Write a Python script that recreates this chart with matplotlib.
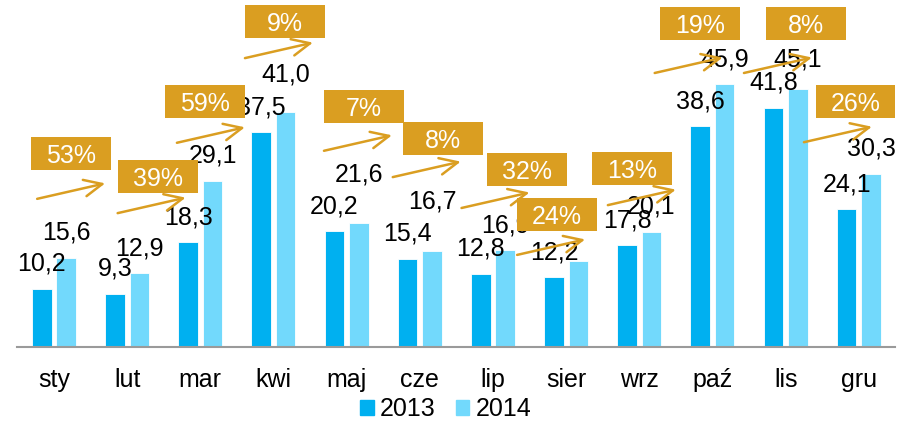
import matplotlib
matplotlib.use("Agg")
import matplotlib.pyplot as plt
from matplotlib.patches import Rectangle, Patch
import numpy as np

plt.rcParams['font.family'] = ['Liberation Sans', 'DejaVu Sans']

# --- data ---
months = ["sty", "lut", "mar", "kwi", "maj", "cze", "lip", "sier", "wrz", "paź", "lis", "gru"]
v2013 = [10.2, 9.3, 18.3, 37.5, 20.2, 15.4, 12.8, 12.2, 17.8, 38.6, 41.8, 24.1]
v2014 = [15.6, 12.9, 29.1, 41.0, 21.6, 16.7, 16.9, 15.1, 20.1, 45.9, 45.1, 30.3]
growth = ["53%", "39%", "59%", "9%", "7%", "8%", "32%", "24%", "13%", "19%", "8%", "26%"]
hidden_2014 = ["sier"]  # label covered in the original

# extra lift of some 2014 labels (points), as placed in the original
lift2014 = [0, 0, 0, 9, 17, 18, 0, 0, 0, 0, 3, 0]

# badge placement: left edge offset from month centre, top in value units
badge_dx = [-0.31, -0.13, -0.48, -0.39, -0.31, -0.23, -0.08, -0.67, -0.65, -0.72, -0.27, -0.59]
badge_top = [36.7, 32.7, 45.8, 59.8, 44.9, 39.3, 33.9, 26.0, 34.1, 59.4, 59.4, 45.8]
# arrow start: offset from month centre, height in value units
arrow_dx = [-0.23, -0.13, -0.32, -0.39, -0.31, -0.37, -0.43, -0.67, -0.43, -0.79, -0.57, -0.75]
arrow_y = [25.9, 23.4, 35.7, 50.5, 34.3, 29.7, 24.3, 16.1, 24.8, 47.9, 47.9, 35.8]

c2013 = "#00B0F0"
c2014 = "#72D9FC"
orange = "#DA9E21"

fig = plt.figure(figsize=(9, 4.22), dpi=100)
ax = fig.add_axes([17.4 / 900, 75 / 422, 878 / 900, 347 / 422])

x = np.arange(len(months))
w = 0.267
off = 0.167
ax.bar(x - off, v2013, w, color=c2013, edgecolor="white", linewidth=0.6, zorder=2)
ax.bar(x + off, v2014, w, color=c2014, edgecolor="white", linewidth=0.6, zorder=2)

def fmt(v):
    return f"{v:.1f}".replace(".", ",")

for i in range(len(months)):
    ax.annotate(fmt(v2013[i]), (x[i] - off, v2013[i]), xytext=(0, 13),
                textcoords="offset points", ha="center", va="baseline",
                fontsize=18, zorder=3)
    if months[i] not in hidden_2014:
        ax.annotate(fmt(v2014[i]), (x[i] + off, v2014[i]), xytext=(0, 13 + lift2014[i]),
                    textcoords="offset points", ha="center", va="baseline",
                    fontsize=18, zorder=3)

bw, bh = 1.093, 5.77
adx, ady = 0.93, 2.71
for i in range(len(months)):
    left = x[i] + badge_dx[i]
    top = badge_top[i]
    ax.add_patch(Rectangle((left, top - bh), bw, bh, facecolor=orange,
                           edgecolor="none", zorder=5))
    ax.text(left + bw / 2, top - bh / 2, growth[i], color="white", fontsize=18,
            ha="center", va="center_baseline", zorder=6)
    sx = x[i] + arrow_dx[i]
    sy = arrow_y[i]
    ax.annotate("", xy=(sx + adx, sy + ady), xytext=(sx, sy),
                arrowprops=dict(arrowstyle="->,head_length=1.3,head_width=0.6",
                                mutation_scale=10, color=orange, lw=1.8,
                                shrinkA=0, shrinkB=0), zorder=4)

ax.set_xlim(-0.5, 11.5)
ax.set_ylim(0, 60.66)
ax.set_xticks(x)
ax.set_xticklabels(months)
ax.tick_params(axis="x", length=0, pad=15, labelsize=18)
ax.set_yticks([])
for s in ["top", "left", "right"]:
    ax.spines[s].set_visible(False)
ax.spines["bottom"].set_color("#9A9A9A")
ax.spines["bottom"].set_linewidth(1.5)

handles = [Patch(color=c2013), Patch(color=c2014)]
fig.legend(handles, ["2013", "2014"], loc="center", bbox_to_anchor=(0.495, 0.03),
           ncol=2, frameon=False, fontsize=18, handlelength=0.55, handleheight=0.55,
           handletextpad=0.25, columnspacing=0.8, borderpad=0)

fig.savefig("out.png", dpi=100)
